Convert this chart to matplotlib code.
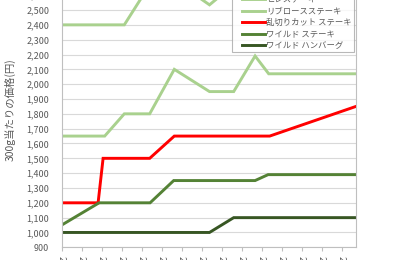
import matplotlib
matplotlib.use("Agg")
import matplotlib.pyplot as plt
from matplotlib.lines import Line2D
from matplotlib.legend_handler import HandlerLine2D

plt.rcParams['font.family'] = ['Noto Sans CJK JP', 'DejaVu Sans']

# x positions in tick units (ticks are evenly spaced dates)
series_names = ["ヒレステーキ", "リブロースステーキ", "乱切りカット ステーキ",
                "ワイルド ステーキ", "ワイルド ハンバーグ"]

hire_x = [0, 3.13, 4.4, 5.63, 7.39, 8.6, 9.67, 10.35, 14.715]
hire_y = [2400, 2400, 2670, 2700, 2535, 2670, 2900, 2780, 2780]

rib_x = [0, 2.15, 3.13, 4.4, 5.63, 7.39, 8.6, 9.67, 10.35, 14.715]
rib_y = [1650, 1650, 1800, 1800, 2100, 1950, 1950, 2190, 2070, 2070]

cut_x = [0, 1.82, 2.07, 4.4, 5.63, 10.4, 14.715]
cut_y = [1200, 1200, 1500, 1500, 1650, 1650, 1850]

wild_x = [0, 1.87, 4.42, 5.6, 9.67, 10.32, 14.715]
wild_y = [1050, 1200, 1200, 1350, 1350, 1390, 1390]

hamb_x = [0, 7.39, 8.6, 14.715]
hamb_y = [1000, 1000, 1100, 1100]

x_tick_labels = ["2013/1", "2013/4", "2013/7", "2013/10", "2014/1", "2014/4",
                 "2014/7", "2014/10", "2015/1", "2015/4", "2015/7", "2015/10",
                 "2016/1", "2016/4", "2016/7"]

colors = ["#A9D18E", "#A9D18E", "#FF0000", "#548235", "#375623"]

W, H = 400, 260
fig = plt.figure(figsize=(4, 2.6), dpi=100)
left_px, right_px, bottom_px = 61.7, 356.0, 247.3
px_per_100 = 14.83
ymin, ymax = 900, 2600
top_px = bottom_px - (ymax - ymin) / 100 * px_per_100
ax = fig.add_axes([left_px / W, 1 - bottom_px / H,
                   (right_px - left_px) / W, (bottom_px - top_px) / H])

data = [(hire_x, hire_y), (rib_x, rib_y), (cut_x, cut_y),
        (wild_x, wild_y), (hamb_x, hamb_y)]
for (xs, ys), name, c in zip(data, series_names, colors):
    ax.plot(xs, ys, color=c, lw=2.1, label=name, solid_joinstyle='miter')

ax.set_xlim(0, 14.715)
ax.set_ylim(ymin, ymax)
ax.set_yticks(range(900, 2601, 100))
ax.set_yticklabels([f"{v:,}" for v in range(900, 2601, 100)])
ax.set_xticks(range(len(x_tick_labels)))
ax.set_xticklabels(x_tick_labels, rotation=-90, va='top', ha='center')

ax.grid(axis='y', color='#D9D9D9', lw=0.8)
ax.set_axisbelow(True)
ax.tick_params(axis='y', length=0, pad=9, labelsize=6.5, labelcolor='#595959')
ax.tick_params(axis='x', length=3, width=0.8, color='#BFBFBF', pad=3,
               labelsize=6.5, labelcolor='#595959')
for s in ['left', 'bottom', 'right']:
    ax.spines[s].set_color('#BFBFBF')
    ax.spines[s].set_linewidth(0.8)
ax.spines['top'].set_visible(False)

fig.text(10 / W, 1 - 109.5 / H, "300g当たりの価格(円)", rotation=90,
         ha='center', va='center', fontsize=7.5, color='#595959')

leg_fs = 6.0
leg = ax.legend(loc='lower left', bbox_to_anchor=(231.7 / W, 1 - 52.0 / H),
                bbox_transform=fig.transFigure, fontsize=leg_fs, frameon=True,
                fancybox=False, edgecolor='#A6A6A6', handlelength=3.76,
                handletextpad=0.2, labelspacing=0.3, borderpad=0.2,
                borderaxespad=0,
                handler_map={Line2D: HandlerLine2D(xpad=1.0)})
leg.get_frame().set_linewidth(0.8)
for t in leg.get_texts():
    t.set_color('#595959')

fig.savefig("out.png", dpi=100)
